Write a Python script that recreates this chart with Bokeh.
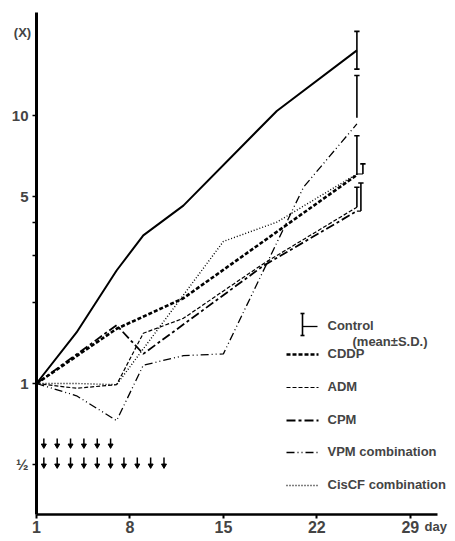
from bokeh.plotting import figure
from bokeh.models import Range1d, FixedTicker, Label
from bokeh.embed import file_html
from bokeh.resources import INLINE

# ---------------- data ----------------
days_control = [1, 4, 7, 9, 12, 19, 25]
control = [1.0, 1.55, 2.64, 3.57, 4.61, 10.4, 17.5]

days_cddp = [1, 7, 12, 25]
cddp = [1.0, 1.60, 2.08, 6.0]

days_adm = [1, 4, 7, 9, 12, 18, 25]
adm = [1.0, 0.96, 0.99, 1.54, 1.75, 2.8, 4.55]

days_cpm = [1, 7, 9, 18, 25]
cpm = [1.0, 1.65, 1.29, 2.75, 4.4]

days_vpm = [1, 4, 7, 9, 12, 15, 21, 25]
vpm = [1.0, 0.9, 0.727, 1.17, 1.27, 1.29, 5.4, 9.3]

days_ciscf = [1, 4, 7, 15, 19, 25]
ciscf = [1.0, 1.0, 0.99, 3.39, 4.0, 6.05]

sd_day = 25
sd_names = ["Control", "VPM", "CDDP", "CisCF", "ADM", "CPM"]
sd_low = [14.9, 9.8, 6.0, 6.05, 4.55, 4.4]
sd_high = [20.6, 14.1, 8.4, 6.6, 5.4, 5.6]

dose_row1 = [1.55, 2.55, 3.55, 4.55, 5.55, 6.55]
dose_row2 = [1.55, 2.55, 3.55, 4.55, 5.55, 6.55, 7.55, 8.55, 9.55, 10.55]

x_ticks = [1, 8, 15, 22, 29]
y_ticks = [0.5, 1, 2, 3, 4, 5, 10]
y_tick_labels = {0.5: "½", 1: "1", 2: "", 3: "", 4: "", 5: "5", 10: "10"}
y_unit_label = "(X)"
x_unit_label = "day"

legend_labels = ["CDDP", "ADM", "CPM", "VPM  combination", "CisCF  combination"]

# ---------------- layout helpers (picture pixel -> data) ----------------
WIDTH, HEIGHT = 455, 541
PX_DAY = 13.35
X_DAY1 = 36.0     # picture x of day 1 (y axis)
Y_ONE = 383.0     # picture y of value 1
DECADE = 268.0    # pixels per decade
AXIS_BOTTOM = 514.0
AXIS_TOP = 12.0
AXIS_RIGHT = 437.0


def day_at(px):
    return 1 + (px - X_DAY1) / PX_DAY


def val_at(py):
    return 10 ** ((Y_ONE - py) / DECADE)


FONT = "Liberation Sans"

p = figure(width=WIDTH, height=HEIGHT,
           x_range=Range1d(day_at(0), day_at(WIDTH)),
           y_range=Range1d(val_at(HEIGHT), val_at(0)),
           y_axis_type="log", output_backend="svg", toolbar_location=None,
           min_border=0, min_border_left=0, min_border_right=0,
           min_border_top=0, min_border_bottom=0)
p.outline_line_color = None
p.xgrid.visible = False
p.ygrid.visible = False
p.background_fill_color = "white"
p.border_fill_color = "white"

# axes, placed inside the frame at the reference positions
p.xaxis.fixed_location = val_at(AXIS_BOTTOM)
p.xaxis.bounds = (1, day_at(AXIS_RIGHT))
p.xaxis.ticker = FixedTicker(ticks=x_ticks)
p.xaxis.axis_line_width = 2.5
p.xaxis.major_tick_out = 4
p.xaxis.major_tick_in = 0
p.xaxis.major_tick_line_width = 2
p.xaxis.minor_tick_line_color = None
p.xaxis.major_label_standoff = 2
p.xaxis.major_label_text_font = FONT
p.xaxis.major_label_text_font_style = "bold"
p.xaxis.major_label_text_font_size = "16px"

p.yaxis.fixed_location = 1
p.yaxis.bounds = (val_at(AXIS_BOTTOM), val_at(AXIS_TOP))
p.yaxis.ticker = FixedTicker(ticks=y_ticks)
p.yaxis.major_label_overrides = y_tick_labels
p.yaxis.axis_line_width = 3
p.yaxis.major_tick_out = 4
p.yaxis.major_tick_in = 0
p.yaxis.major_tick_line_width = 1.5
p.yaxis.minor_tick_line_color = None
p.yaxis.major_label_standoff = 4
p.yaxis.major_label_text_font = FONT
p.yaxis.major_label_text_font_style = "bold"
p.yaxis.major_label_text_font_size = "15px"

# series
styles = {
    "Control": dict(line_width=2, line_dash="solid"),
    "CDDP": dict(line_width=2.6, line_dash="4 2"),
    "ADM": dict(line_width=1.2, line_dash="4 2"),
    "CPM": dict(line_width=1.8, line_dash="9 3 3 3"),
    "VPM": dict(line_width=1.3, line_dash="8 3 1 3 1 3"),
    "CisCF": dict(line_width=1.4, line_dash="1 2"),
}

p.line(days_control, control, line_color="black", **styles["Control"])
p.line(days_cddp, cddp, line_color="black", **styles["CDDP"])
p.line(days_adm, adm, line_color="black", **styles["ADM"])
p.line(days_cpm, cpm, line_color="black", **styles["CPM"])
p.line(days_vpm, vpm, line_color="black", **styles["VPM"])
p.line(days_ciscf, ciscf, line_color="black", **styles["CisCF"])

# error bars (upper S.D.)
offsets = {"CisCF": 0.45, "CPM": 0.3}
cap = 0.2
ends = {"CPM": cpm[-1], "CisCF": ciscf[-1]}
for name, lo, hi in zip(sd_names, sd_low, sd_high):
    xb = sd_day + offsets.get(name, 0.0)
    p.segment(x0=[xb], y0=[lo], x1=[xb], y1=[hi], line_color="black", line_width=1.6)
    p.segment(x0=[xb - cap], y0=[hi], x1=[xb + cap], y1=[hi], line_color="black", line_width=1.6)
    if name == "Control":
        p.segment(x0=[xb - cap], y0=[lo], x1=[xb + cap], y1=[lo], line_color="black", line_width=1.6)
    if name in ends:
        p.segment(x0=[sd_day], y0=[ends[name]], x1=[xb], y1=[ends[name]], line_color="black", line_width=1.2)

# dosing arrows
for row, (ytop, ybot) in ((dose_row1, (438, 447)), (dose_row2, (457, 467))):
    p.segment(x0=row, y0=[val_at(ytop)] * len(row), x1=row, y1=[val_at(ybot - 2)] * len(row),
              line_color="black", line_width=1.5)
    p.scatter(row, [val_at(ybot - 2)] * len(row), marker="inverted_triangle", size=5,
              fill_color="black", line_color="black")

# legend (drawn by hand, like the original)
lx0, lx1 = day_at(286), day_at(318)
cx = day_at(302)
p.segment(x0=[cx], y0=[val_at(313)], x1=[cx], y1=[val_at(335)], line_color="black", line_width=1.6)
p.segment(x0=[cx - 0.15], y0=[val_at(313)], x1=[cx + 0.15], y1=[val_at(313)], line_color="black", line_width=1.6)
p.segment(x0=[cx - 0.15], y0=[val_at(335)], x1=[cx + 0.15], y1=[val_at(335)], line_color="black", line_width=1.6)
p.segment(x0=[cx], y0=[val_at(326)], x1=[day_at(317)], y1=[val_at(326)], line_color="black", line_width=1.3)


def pic_label(px, py, text, size="13px", align="left"):
    p.add_layout(Label(x=day_at(px), y=val_at(py), text=text, text_font=FONT,
                       text_font_style="bold", text_font_size=size,
                       text_baseline="middle", text_align=align))


pic_label(327, 325, "Control")
pic_label(352, 341, "(mean±S.D.)")

legend_keys = ["CDDP", "ADM", "CPM", "VPM", "CisCF"]
legend_py = [354, 387, 420, 452, 485]
for key, lab, py in zip(legend_keys, legend_labels, legend_py):
    yv = val_at(py)
    p.line([lx0, lx1], [yv, yv], line_color="black", **styles[key])
    pic_label(327, py - 1, lab)

# units
pic_label(22, 32, y_unit_label, align="center")
pic_label(424, 526, x_unit_label, size="13px")

open("out.html", "w").write(file_html(p, INLINE))
